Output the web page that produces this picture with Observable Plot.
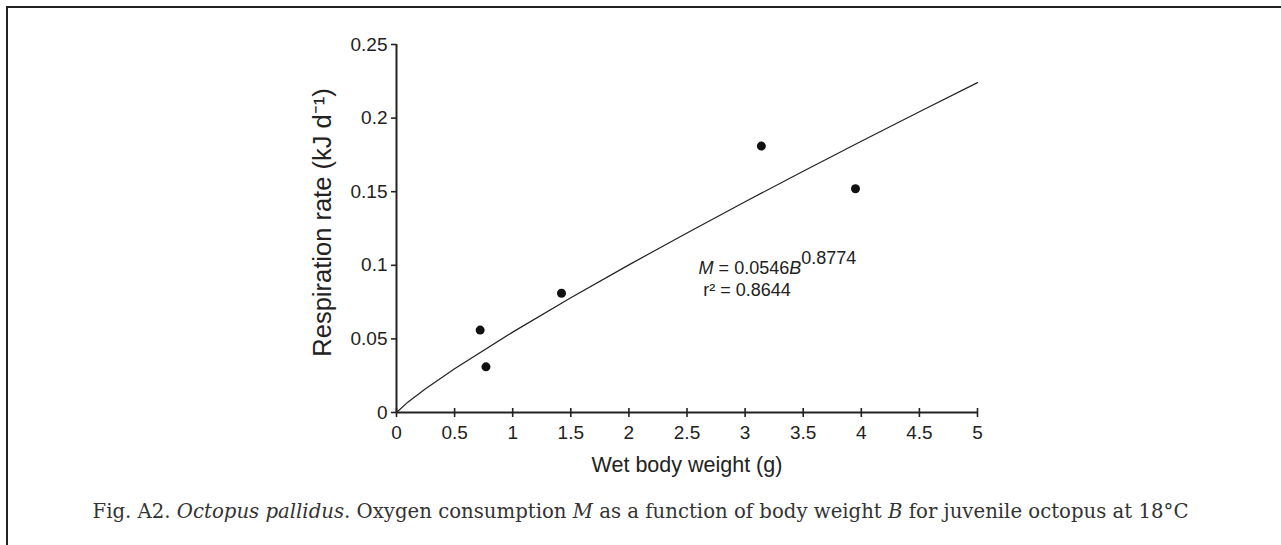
<!DOCTYPE html>
<html>
<head>
<meta charset="utf-8">
<script src="https://cdn.jsdelivr.net/npm/d3@7"></script>
<script src="https://cdn.jsdelivr.net/npm/@observablehq/plot@0.6"></script>
<style>
  html, body { margin: 0; padding: 0; background: #fff; }
  body { width: 1281px; height: 545px; position: relative; overflow: hidden; }
  #frame { position: absolute; left: 6px; top: 6px; right: -4px; bottom: -4px;
           border-top: 2px solid #222; border-left: 2px solid #222; }
  #chart { position: absolute; left: 0; top: 0; }
  #caption { position: absolute; left: 0; width: 1281px; top: 500px; text-align: center;
             font-family: "DejaVu Serif", "Liberation Serif", serif; font-size: 19.7px;
             color: #333; white-space: nowrap; }
</style>
</head>
<body>
<div id="frame"></div>
<div id="chart"></div>
<div id="caption">Fig. A2. <i>Octopus pallidus</i>. Oxygen consumption <i>M</i> as a function of body weight <i>B</i> for juvenile octopus at 18°C</div>
<script>
// Observed data: wet body weight (g) and respiration rate (kJ d-1)
const weight = [0.72, 0.77, 1.42, 3.14, 3.95];
const respiration = [0.056, 0.031, 0.081, 0.181, 0.152];

// Fitted curve M = 0.0546 B^0.8774
const curveB = [0, 0.1, 0.25, 0.5, 1, 1.5, 2, 2.5, 3, 3.5, 4, 4.5, 5];
const curveM = [0, 0.0072, 0.0162, 0.0297, 0.0546, 0.0779, 0.1003, 0.1220, 0.1432, 0.1639, 0.1843, 0.2043, 0.2241];

const xTicks = [0, 0.5, 1, 1.5, 2, 2.5, 3, 3.5, 4, 4.5, 5];
const yTicks = [0, 0.05, 0.1, 0.15, 0.2, 0.25];

const xLabel = "Wet body weight (g)";
const yLabel = "Respiration rate (kJ d\u207B\u00B9)";
const equationText = "M = 0.0546B^0.8774";
const r2Text = "r\u00B2 = 0.8644";
const equationPos = {x: 2.6, y: 0.0978};
const r2Pos = {x: 2.64, y: 0.0828};

const points = weight.map((w, i) => ({w, r: respiration[i]}));
const curve = curveB.map((b, i) => ({b, m: curveM[i]}));

const ink = "#222";

const plot = Plot.plot({
  width: 1281,
  height: 480,
  marginLeft: 396,
  marginRight: 304,
  marginTop: 44,
  marginBottom: 68,
  style: {fontFamily: "'Liberation Sans', Arial, sans-serif", fontSize: "19px", color: ink, background: "transparent", overflow: "visible"},
  x: {domain: [0, 5]},
  y: {domain: [0, 0.25]},
  marks: [
    Plot.ruleY([0], {x1: 0, x2: 5, stroke: ink, strokeWidth: 2}),
    Plot.ruleX([0], {y1: 0, y2: 0.25, stroke: ink, strokeWidth: 2}),
    Plot.axisX(xTicks, {tickSize: 9, dy: -4, tickPadding: 8, strokeWidth: 1.6, stroke: ink, fill: ink, tickFormat: d => String(d), label: null, fontSize: 19}),
    Plot.axisY(yTicks, {tickSize: 5, tickPadding: 4, strokeWidth: 1.6, stroke: ink, fill: ink, tickFormat: d => String(d), label: null, fontSize: 19}),
    Plot.text([xLabel], {frameAnchor: "bottom", dy: 59, fontSize: 21.5, fill: ink}),
    Plot.text([yLabel], {frameAnchor: "left", textAnchor: "middle", dx: -74, dy: -6, rotate: -90, fontSize: 25.5, fill: ink}),
    Plot.line(curve, {x: "b", y: "m", stroke: ink, strokeWidth: 1.2}),
    Plot.dot(points, {x: "w", y: "r", r: 4.5, fill: "#111", stroke: "none"}),
    Plot.text([equationText], {x: () => equationPos.x, y: () => equationPos.y, textAnchor: "start", fontSize: 18, fill: ink}),
    Plot.text([r2Text], {x: () => r2Pos.x, y: () => r2Pos.y, textAnchor: "start", fontSize: 18, fill: ink})
  ]
});

// Rich formatting of the equation (italics and superscript)
d3.select(plot).selectAll("text").filter(function() { return this.textContent === equationText; }).each(function() {
  const t = d3.select(this);
  t.text(null);
  t.append("tspan").attr("font-style", "italic").text("M");
  t.append("tspan").text(" = 0.0546");
  t.append("tspan").attr("font-style", "italic").text("B");
  t.append("tspan").attr("dy", "-0.55em").text("0.8774");
});

document.getElementById("chart").appendChild(plot);
</script>
</body>
</html>
